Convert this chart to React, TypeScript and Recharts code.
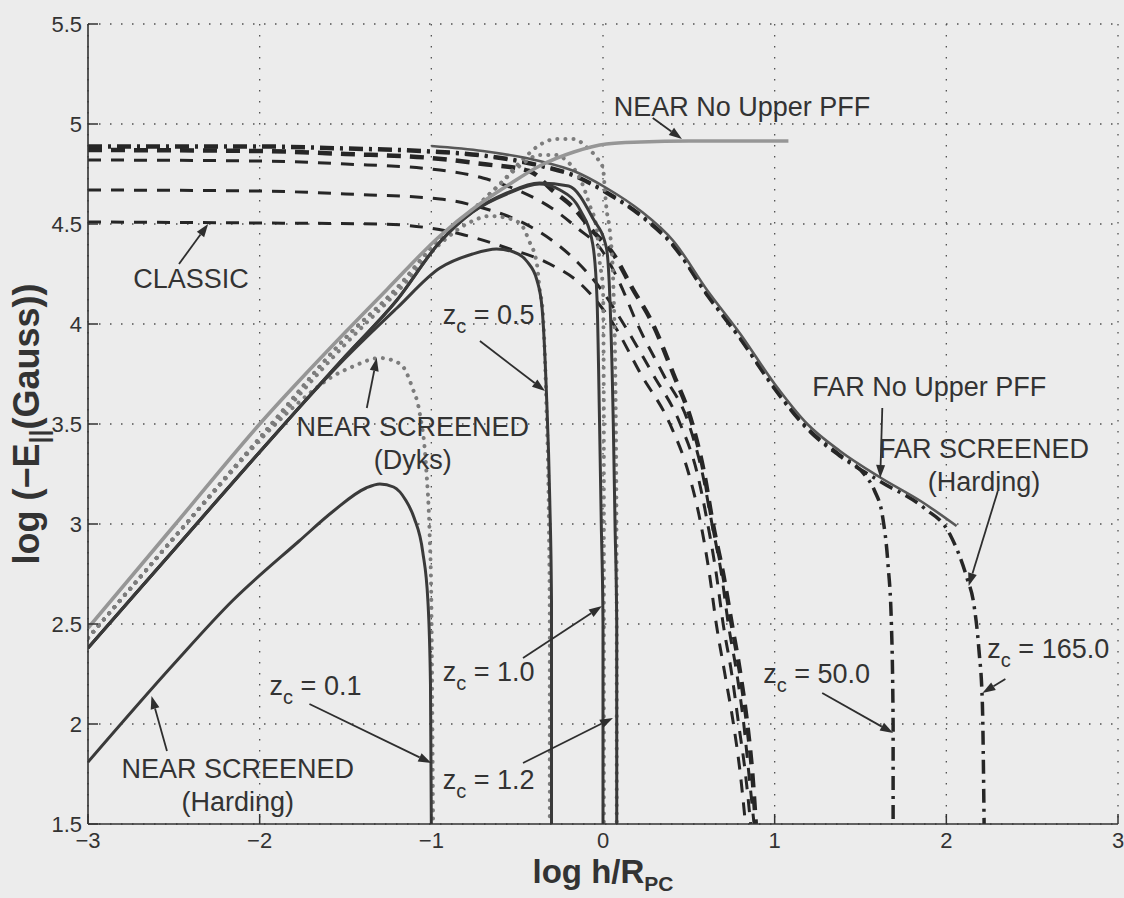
import React from 'react';
import { LineChart, Line, XAxis, YAxis, CartesianGrid, ReferenceLine, ReferenceDot } from 'recharts';

type Pt = [number, number];

const xTicks = [-3, -2, -1, 0, 1, 2, 3];
const yTicks = [1.5, 2, 2.5, 3, 3.5, 4, 4.5, 5, 5.5];

// NEAR, no upper PFF (light grey solid)
const nearNoUpper: Pt[] = [
  [-3, 2.48], [-2.5, 2.99], [-2, 3.5], [-1.5, 3.96], [-1.25, 4.18], [-0.95, 4.44], [-0.75, 4.58],
  [-0.56, 4.69], [-0.37, 4.79], [-0.17, 4.86], [0.02, 4.9], [0.22, 4.91], [0.5, 4.915], [1.08, 4.915],
];

// FAR, no upper PFF (grey solid)
const farNoUpper: Pt[] = [
  [-1, 4.89], [-0.7, 4.865], [-0.37, 4.815], [-0.17, 4.765], [0.02, 4.68], [0.22, 4.565], [0.41, 4.415],
  [0.61, 4.165], [0.8, 3.95], [1.0, 3.7], [1.19, 3.5], [1.38, 3.365], [1.62, 3.23], [1.85, 3.115], [2.06, 2.99],
];

// FAR screened (Harding), dash-dot
const farZc50: Pt[] = [
  [-3, 4.89], [-2, 4.89], [-1.5, 4.88], [-1, 4.865], [-0.7, 4.845], [-0.37, 4.795], [-0.17, 4.745], [0.02, 4.66],
  [0.22, 4.545], [0.41, 4.395], [0.61, 4.145], [0.8, 3.93], [1.0, 3.68], [1.19, 3.48], [1.38, 3.345], [1.52, 3.25],
  [1.58, 3.17], [1.63, 3.03], [1.66, 2.8], [1.68, 2.5], [1.69, 2.0], [1.69, 1.5],
];
const farZc165: Pt[] = [
  [-3, 4.885], [-2, 4.885], [-1.5, 4.875], [-1, 4.86], [-0.7, 4.84], [-0.37, 4.79], [-0.17, 4.74], [0.02, 4.655],
  [0.22, 4.54], [0.41, 4.39], [0.61, 4.14], [0.8, 3.925], [1.0, 3.675], [1.19, 3.475], [1.38, 3.34], [1.62, 3.21],
  [1.87, 3.08], [2.02, 2.95], [2.12, 2.73], [2.16, 2.6], [2.19, 2.37], [2.21, 2.1], [2.22, 1.5],
];

// dashed families (CLASSIC is the lowest)
const dashedBold: Pt[] = [
  [-3, 4.87], [-2, 4.865], [-1.5, 4.85], [-1, 4.83], [-0.7, 4.8], [-0.43, 4.765], [-0.29, 4.665], [-0.17, 4.58],
  [-0.06, 4.465], [0.06, 4.35], [0.17, 4.18], [0.29, 4.0], [0.41, 3.75], [0.52, 3.5], [0.59, 3.25], [0.64, 3.0],
  [0.7, 2.75], [0.75, 2.5], [0.8, 2.25], [0.84, 2.0], [0.87, 1.75], [0.89, 1.5],
];
const dashedUpper: Pt[] = [
  [-3, 4.82], [-2, 4.815], [-1.5, 4.8], [-0.95, 4.77], [-0.7, 4.73], [-0.5, 4.67], [-0.3, 4.58], [-0.15, 4.48],
  [0, 4.36], [0.1, 4.2], [0.2, 4.0], [0.35, 3.75], [0.5, 3.5], [0.58, 3.25], [0.635, 3.0], [0.69, 2.75],
  [0.73, 2.5], [0.78, 2.25], [0.82, 2.0], [0.85, 1.75], [0.88, 1.5],
];
const dashedMiddle: Pt[] = [
  [-3, 4.67], [-2, 4.665], [-1.5, 4.65], [-0.95, 4.625], [-0.7, 4.58], [-0.5, 4.52], [-0.3, 4.42], [-0.15, 4.31],
  [0, 4.16], [0.12, 4.0], [0.29, 3.75], [0.45, 3.5], [0.55, 3.25], [0.61, 3.0], [0.66, 2.75], [0.7, 2.5],
  [0.75, 2.25], [0.79, 2.0], [0.83, 1.75], [0.86, 1.5],
];
const classic: Pt[] = [
  [-3, 4.51], [-2, 4.505], [-1.3, 4.5], [-0.83, 4.45], [-0.56, 4.38], [-0.31, 4.3], [-0.13, 4.2], [0.02, 4.05],
  [0.06, 4.0], [0.22, 3.75], [0.39, 3.5], [0.5, 3.25], [0.57, 3.0], [0.62, 2.75], [0.66, 2.5], [0.71, 2.25],
  [0.76, 2.0], [0.8, 1.75], [0.83, 1.5],
];

// NEAR screened (Harding), dark solid
const hardingZc01: Pt[] = [
  [-3, 1.81], [-2.5, 2.3], [-2.16, 2.615], [-1.77, 2.915], [-1.57, 3.065], [-1.38, 3.18], [-1.3, 3.2],
  [-1.22, 3.185], [-1.15, 3.12], [-1.1, 3.03], [-1.05, 2.86], [-1.02, 2.615], [-1.005, 2.2], [-1.0, 1.5],
];
const hardingZc05: Pt[] = [
  [-3, 2.38], [-2.5, 2.87], [-2, 3.36], [-1.5, 3.83], [-1.2, 4.08], [-0.95, 4.28], [-0.76, 4.35], [-0.62, 4.375],
  [-0.52, 4.36], [-0.44, 4.31], [-0.385, 4.22], [-0.355, 4.08], [-0.33, 3.665], [-0.31, 3.115], [-0.3, 2.615], [-0.3, 1.5],
];
const hardingZc10: Pt[] = [
  [-3, 2.38], [-2.5, 2.87], [-2, 3.36], [-1.5, 3.84], [-1.2, 4.12], [-0.95, 4.41], [-0.76, 4.56], [-0.56, 4.65],
  [-0.37, 4.7], [-0.25, 4.67], [-0.13, 4.565], [-0.06, 4.4], [-0.035, 4.13], [-0.02, 3.5], [-0.01, 3.0],
  [0, 2.5], [0, 1.5],
];
const hardingZc12: Pt[] = [
  [-3, 2.38], [-2.5, 2.87], [-2, 3.36], [-1.5, 3.84], [-1.2, 4.12], [-0.95, 4.41], [-0.76, 4.56], [-0.56, 4.655],
  [-0.37, 4.705], [-0.2, 4.69], [-0.06, 4.53], [0.02, 4.38], [0.04, 4.13], [0.06, 3.5], [0.07, 3.0],
  [0.08, 2.5], [0.08, 1.5],
];

// NEAR screened (Dyks), grey dotted
const dyksA: Pt[] = [
  [-3, 2.43], [-2.5, 2.93], [-2, 3.42], [-1.7, 3.66], [-1.59, 3.73], [-1.45, 3.79], [-1.3, 3.83], [-1.18, 3.8],
  [-1.11, 3.68], [-1.07, 3.565], [-1.03, 3.28], [-1.01, 2.95], [-1.0, 2.615], [-0.99, 1.5],
];
const dyksB: Pt[] = [
  [-3, 2.43], [-2.5, 2.93], [-2, 3.42], [-1.5, 3.9], [-1.2, 4.16], [-0.95, 4.4], [-0.76, 4.515], [-0.66, 4.54],
  [-0.56, 4.53], [-0.48, 4.5], [-0.43, 4.415], [-0.385, 4.3], [-0.37, 4.18], [-0.35, 4.05], [-0.33, 3.6],
  [-0.315, 3.0], [-0.31, 2.5], [-0.31, 1.5],
];
const dyksC: Pt[] = [
  [-3, 2.43], [-2.5, 2.93], [-2, 3.43], [-1.5, 3.93], [-1.2, 4.18], [-0.95, 4.43], [-0.76, 4.57], [-0.6, 4.7],
  [-0.47, 4.82], [-0.37, 4.895], [-0.27, 4.925], [-0.17, 4.925], [-0.09, 4.88], [-0.035, 4.83], [0.0, 4.78],
  [0.01, 4.68], [0.02, 4.58], [0.04, 4.465], [0.06, 4.2], [0.075, 3.5], [0.08, 2.5], [0.08, 1.5],
];
const dyksD: Pt[] = [
  [-3, 2.43], [-2.5, 2.93], [-2, 3.43], [-1.5, 3.93], [-1.2, 4.18], [-0.95, 4.43], [-0.76, 4.57], [-0.6, 4.7],
  [-0.47, 4.8], [-0.37, 4.845], [-0.28, 4.845], [-0.21, 4.815], [-0.12, 4.7], [-0.08, 4.6], [-0.035, 4.465],
  [-0.02, 4.315], [0.0, 4.18], [0.005, 3.5], [0.005, 1.5],
];

// text notes and arrows, in data units
const notes = [
  { x: 0.81, y: 5.09, lines: ['NEAR No Upper PFF'] },
  { x: -2.4, y: 4.23, lines: ['CLASSIC'] },
  { x: -1.108, y: 3.49, lines: ['NEAR SCREENED', '(Dyks)'] },
  { x: -2.128, y: 1.78, lines: ['NEAR SCREENED', '(Harding)'] },
  { x: 1.9, y: 3.69, lines: ['FAR No Upper PFF'] },
  { x: 2.22, y: 3.38, lines: ['FAR SCREENED', '(Harding)'] },
];
const zcNotes = [
  { x: -0.933, y: 4.05, value: '0.5' },
  { x: -1.942, y: 2.195, value: '0.1' },
  { x: -0.933, y: 2.265, value: '1.0' },
  { x: -0.933, y: 1.725, value: '1.2' },
  { x: 0.933, y: 2.255, value: '50.0' },
  { x: 2.239, y: 2.38, value: '165.0' },
];
const arrows: [number, number, number, number][] = [
  [0.29, 5.03, 0.46, 4.925],
  [-2.47, 4.3, -2.3, 4.5],
  [-0.717, 3.915, -0.338, 3.665],
  [-1.376, 3.58, -1.318, 3.83],
  [-1.71, 2.1, -1.0, 1.805],
  [-2.54, 1.865, -2.63, 2.14],
  [-0.466, 2.33, -0.006, 2.59],
  [-0.466, 1.805, 0.058, 2.03],
  [1.627, 3.58, 1.615, 3.23],
  [2.3, 3.165, 2.13, 2.69],
  [1.277, 2.155, 1.69, 1.955],
  [2.344, 2.225, 2.21, 2.155],
];

const rows = (pts: Pt[]) => pts.map(([x, y]) => ({ x, y }));

const FONT = '"Liberation Sans", Arial, Helvetica, sans-serif';
const INK = '#2e2e2e';
const TEXT = '#333333';
const AXIS = '#333333';
const TICK_LEN = 10;
const MARGIN = 6;

const fmtX = (v: number) => (v < 0 ? '\u2212' + Math.abs(v) : String(v));

const BottomTick = (p: any) => (
  <g>
    <line x1={p.x} y1={p.y - MARGIN} x2={p.x} y2={p.y - MARGIN - TICK_LEN} stroke={AXIS} strokeWidth={1.5} />
    <text x={p.x} y={p.y} dy={18} textAnchor="middle" fontSize={22} fill={TEXT} fontFamily={FONT}>
      {fmtX(p.payload.value)}
    </text>
  </g>
);
const LeftTick = (p: any) => (
  <g>
    <line x1={p.x + MARGIN} y1={p.y} x2={p.x + MARGIN + TICK_LEN} y2={p.y} stroke={AXIS} strokeWidth={1.5} />
    <text x={p.x} y={p.y} dy={8} textAnchor="end" fontSize={22} fill={TEXT} fontFamily={FONT}>
      {String(p.payload.value)}
    </text>
  </g>
);
const TopTick = (p: any) => (
  <line x1={p.x} y1={p.y} x2={p.x} y2={p.y + TICK_LEN} stroke={AXIS} strokeWidth={1.5} />
);
const RightTick = (p: any) => (
  <line x1={p.x} y1={p.y} x2={p.x - TICK_LEN} y2={p.y} stroke={AXIS} strokeWidth={1.5} />
);

const XLabel = (p: any) => {
  const vb = p.viewBox || { x: 88, y: 824, width: 1030, height: 74 };
  return (
    <text x={vb.x + vb.width / 2} y={vb.y + 59} textAnchor="middle" fontSize={33} fontWeight="bold" fill={TEXT} fontFamily={FONT}>
      log h/R<tspan dy={8} fontSize={21}>PC</tspan>
    </text>
  );
};
const YLabel = (p: any) => {
  const vb = p.viewBox || { x: 0, y: 24, width: 88, height: 800 };
  const cy = vb.y + vb.height / 2;
  return (
    <text transform={`translate(39, ${cy}) rotate(-90)`} textAnchor="middle" fontSize={36} fontWeight="bold" fill={TEXT} fontFamily={FONT}>
      log ({'\u2212'}E<tspan dy={9} fontSize={25}>||</tspan>
      <tspan dy={-9}>(Gauss))</tspan>
    </text>
  );
};

const NoteShape = (p: any) => {
  const lines: string[] = p.lines;
  return (
    <g>
      {lines.map((t, i) => (
        <text key={i} x={p.cx} y={p.cy + i * 33} dy="0.36em" textAnchor="middle" fontSize={27} fill={TEXT} fontFamily={FONT}>
          {t}
        </text>
      ))}
    </g>
  );
};
const ZcShape = (p: any) => (
  <text x={p.cx} y={p.cy} dy="0.36em" textAnchor="start" fontSize={27} fill={TEXT} fontFamily={FONT}>
    z<tspan dy={9} fontSize={20}>c</tspan>
    <tspan dy={-9}>{' = ' + p.value}</tspan>
  </text>
);
const ArrowShape = (p: any) => {
  const { x1, y1, x2, y2 } = p;
  const a = Math.atan2(y2 - y1, x2 - x1);
  const len = 13;
  const w = 4.5;
  const bx = x2 - len * Math.cos(a);
  const by = y2 - len * Math.sin(a);
  const nx = -Math.sin(a) * w;
  const ny = Math.cos(a) * w;
  return (
    <g>
      <line x1={x1} y1={y1} x2={bx} y2={by} stroke={INK} strokeWidth={1.8} />
      <polygon points={`${x2},${y2} ${bx + nx},${by + ny} ${bx - nx},${by - ny}`} fill={INK} />
    </g>
  );
};

const App = () => {
  const dashed = { stroke: '#262626', dot: false, activeDot: false, isAnimationActive: false, type: 'monotone' as const };
  return (
    <div style={{ position: 'absolute', left: 0, top: 0, width: 1124, height: 898, background: '#ececec' }}>
      <LineChart width={1124} height={898} margin={{ top: 24, right: 6, bottom: 0, left: 0 }}>
        <CartesianGrid stroke="#505050" strokeDasharray="1.5 9.5" strokeWidth={1.3} />
        <XAxis
          dataKey="x" type="number" domain={[-3, 3]} ticks={xTicks} interval={0} allowDataOverflow
          height={74} tickSize={0} tickMargin={MARGIN} tickLine={false}
          axisLine={{ stroke: AXIS, strokeWidth: 1.6 }} tick={BottomTick} label={{ content: XLabel }}
        />
        <XAxis
          xAxisId="top" orientation="top" type="number" domain={[-3, 3]} ticks={xTicks} interval={0} allowDataOverflow
          height={0} tickSize={0} tickMargin={0} tickLine={false}
          axisLine={{ stroke: AXIS, strokeWidth: 1.6 }} tick={TopTick}
        />
        <YAxis
          type="number" domain={[1.5, 5.5]} ticks={yTicks} interval={0} allowDataOverflow
          width={88} tickSize={0} tickMargin={MARGIN} tickLine={false}
          axisLine={{ stroke: AXIS, strokeWidth: 1.6 }} tick={LeftTick} label={{ content: YLabel }}
        />
        <YAxis
          yAxisId="right" orientation="right" type="number" domain={[1.5, 5.5]} ticks={yTicks} interval={0} allowDataOverflow
          width={0} tickSize={0} tickMargin={0} tickLine={false}
          axisLine={{ stroke: AXIS, strokeWidth: 1.6 }} tick={RightTick}
        />

        <Line {...dashed} data={rows(classic)} dataKey="y" strokeWidth={3} strokeDasharray="13 10" />
        <Line {...dashed} data={rows(dashedMiddle)} dataKey="y" strokeWidth={3} strokeDasharray="13 10" />
        <Line {...dashed} data={rows(dashedUpper)} dataKey="y" strokeWidth={3} strokeDasharray="13 10" />
        <Line {...dashed} data={rows(dashedBold)} dataKey="y" strokeWidth={4.5} strokeDasharray="14 9" />
        <Line {...dashed} data={rows(farZc50)} dataKey="y" strokeWidth={3.5} strokeDasharray="14 6 3 6" />
        <Line {...dashed} data={rows(farZc165)} dataKey="y" strokeWidth={3.5} strokeDasharray="14 6 3 6" />

        {[dyksA, dyksB, dyksC, dyksD].map((d, i) => (
          <Line
            key={'dyks' + i} data={rows(d)} dataKey="y" type="monotone" stroke="#7c7c7c" strokeWidth={4}
            strokeDasharray="0.1 8" strokeLinecap="round" dot={false} activeDot={false} isAnimationActive={false}
          />
        ))}
        {[hardingZc01, hardingZc05, hardingZc10, hardingZc12].map((d, i) => (
          <Line
            key={'hard' + i} data={rows(d)} dataKey="y" type="monotone" stroke="#3a3a3a" strokeWidth={3}
            dot={false} activeDot={false} isAnimationActive={false}
          />
        ))}
        <Line data={rows(farNoUpper)} dataKey="y" type="monotone" stroke="#585858" strokeWidth={2.6} dot={false} activeDot={false} isAnimationActive={false} />
        <Line data={rows(nearNoUpper)} dataKey="y" type="monotone" stroke="#969696" strokeWidth={3.6} dot={false} activeDot={false} isAnimationActive={false} />

        {arrows.map((a, i) => (
          <ReferenceLine
            key={'arr' + i} segment={[{ x: a[0], y: a[1] }, { x: a[2], y: a[3] }]} ifOverflow="visible"
            shape={ArrowShape}
          />
        ))}
        {notes.map((n, i) => (
          <ReferenceDot key={'note' + i} x={n.x} y={n.y} r={1} ifOverflow="visible" shape={(p: any) => <NoteShape {...p} lines={n.lines} />} />
        ))}
        {zcNotes.map((n, i) => (
          <ReferenceDot key={'zc' + i} x={n.x} y={n.y} r={1} ifOverflow="visible" shape={(p: any) => <ZcShape {...p} value={n.value} />} />
        ))}
      </LineChart>
    </div>
  );
};

export default App;
